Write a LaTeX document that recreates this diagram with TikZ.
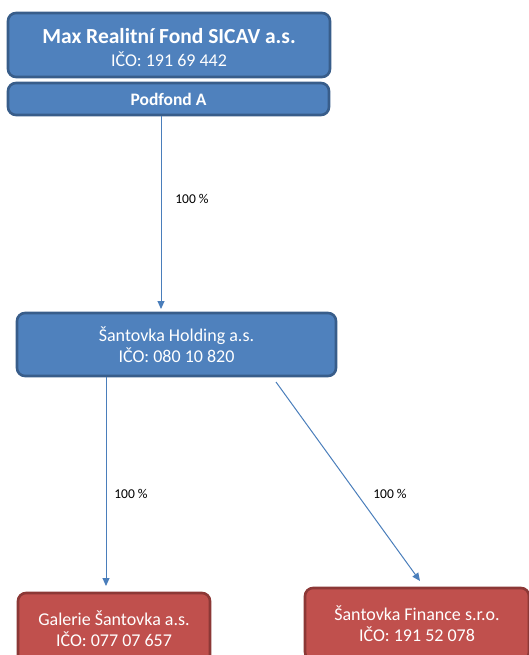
\documentclass[tikz,border=0pt]{standalone}
\usepackage{fontspec}
\setmainfont{Carlito}
\usetikzlibrary{arrows.meta}
\definecolor{bfill}{HTML}{4F81BD}
\definecolor{bdraw}{HTML}{385D8A}
\definecolor{rfill}{HTML}{C0504D}
\definecolor{rdraw}{HTML}{8C3836}
\definecolor{lcol}{HTML}{4A7EBB}
\tikzset{
  bluebox/.style={draw=bdraw, fill=bfill, line width=2.6pt, rounded corners=8pt, text=white, align=center, inner sep=0pt},
  redbox/.style={draw=rdraw, fill=rfill, line width=2.6pt, rounded corners=8pt, text=white, align=center, inner sep=0pt},
  conn/.style={draw=lcol, line width=1pt, -{Triangle[length=8pt,width=7pt]}},
  pct/.style={font=\fontsize{13.5}{16}\selectfont, text=black},
  bodyfont/.style={font=\fontsize{18}{21}\selectfont}
}
\begin{document}
\begin{tikzpicture}[x=1pt,y=-1pt]
\useasboundingbox (0,0) rectangle (528,655);
\node[bluebox, minimum width=322pt, minimum height=64pt,
  label={[text=white, align=center, inner sep=0pt, yshift=-2.5pt, font=\fontsize{18}{23.5}\selectfont]center:{\textbf{\fontsize{21.5}{23.5}\selectfont Max Realitní Fond SICAV a.s.}\\IČO: 191 69 442}}]
  (top) at (169,45) {};
\node[bluebox, minimum width=321pt, minimum height=32pt, font=\fontsize{17.5}{20}\selectfont\bfseries] (podfond) at (168.5,99) {Podfond A};
\node[bluebox, bodyfont, minimum width=319pt, minimum height=63pt] (holding) at (176.5,344.5)
  {Šantovka Holding a.s.\\IČO: 080 10 820};
\node[redbox, bodyfont, minimum width=192pt, minimum height=72pt] (galerie) at (114,629)
  {Galerie Šantovka a.s.\\IČO: 077 07 657};
\node[redbox, bodyfont, minimum width=224pt, minimum height=72pt] (finance) at (417,624)
  {Šantovka Finance s.r.o.\\IČO: 191 52 078};
\coordinate (a1s) at (161,116);
\coordinate (a1e) at (161,309);
\draw[conn] (podfond.south -| a1s) -- (a1e);
\coordinate (a2s) at (106,377);
\coordinate (a2e) at (106,586);
\draw[conn] (holding.south -| a2s) -- (a2e);
\coordinate (a3s) at (276,382);
\coordinate (a3e) at (420,581);
\draw[conn] (a3s) -- (a3e);
\node[pct] (p1) at (192,199) {100 \%};
\node[pct] (p2) at (131,494) {100 \%};
\node[pct] (p3) at (390,494) {100 \%};
\end{tikzpicture}
\end{document}
